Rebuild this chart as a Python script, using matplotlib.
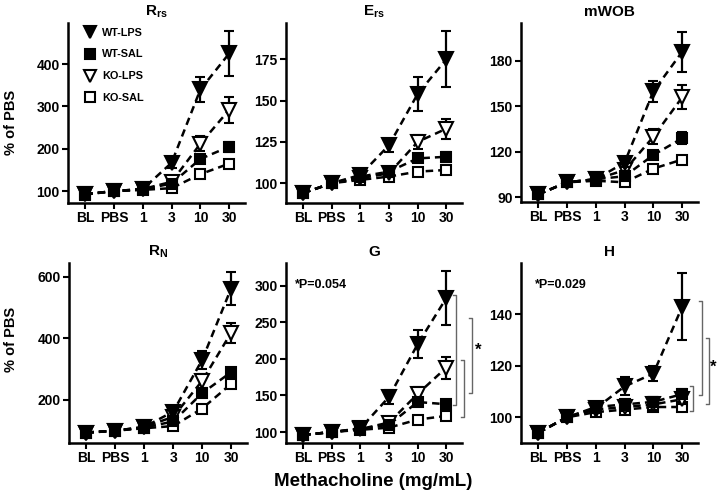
"""Airway mechanics vs methacholine dose, 6 panels (% of PBS)"""
import numpy as np
import matplotlib
matplotlib.use('Agg')
import matplotlib.pyplot as plt
import matplotlib.transforms as mtransforms
from matplotlib.lines import Line2D

plt.rcParams['font.family'] = ['Liberation Sans', 'DejaVu Sans']
plt.rcParams['font.weight'] = 'bold'
plt.rcParams['mathtext.fontset'] = 'custom'
plt.rcParams['mathtext.rm'] = 'Liberation Sans:bold'
plt.rcParams['mathtext.it'] = 'Liberation Sans:bold'
plt.rcParams['mathtext.bf'] = 'Liberation Sans:bold'

DOSES = ['BL', 'PBS', '1', '3', '10', '30']
GROUPS = ['WT-LPS', 'WT-SAL', 'KO-LPS', 'KO-SAL']

# rows follow GROUPS order
rrs_mean = [[93, 100, 105, 167, 340, 425],
            [93, 100, 104, 118, 176, 205],
            [93, 100, 105, 122, 212, 292],
            [92, 100, 103, 107, 140, 165]]
rrs_sem = [[3, 2, 5, 12, 30, 52],
           [3, 2, 4, 8, 10, 12],
           [3, 2, 4, 8, 18, 31],
           [3, 2, 3, 5, 6, 6]]

ers_mean = [[94, 100, 105, 123, 154, 175],
            [94, 100, 104, 107, 115, 116],
            [94, 100, 103, 106, 125, 133],
            [94, 100, 102, 104, 107, 108]]
ers_sem = [[2, 1, 2, 4, 10, 17],
           [2, 1, 2, 2, 2, 3],
           [2, 1, 2, 2, 4, 6],
           [2, 1, 1, 2, 1, 1]]

mwob_mean = [[92, 100, 102, 113, 160, 186],
             [92, 100, 102, 104, 118, 129],
             [92, 100, 102, 108, 130, 156],
             [92, 100, 101, 100, 109, 115]]
mwob_sem = [[2, 1, 1, 3, 7, 13],
            [2, 1, 1, 2, 2, 4],
            [2, 1, 1, 3, 5, 8],
            [2, 1, 1, 2, 2, 2]]

rn_mean = [[94, 100, 112, 162, 330, 562],
           [94, 100, 110, 130, 222, 290],
           [94, 100, 112, 145, 262, 418],
           [93, 100, 108, 115, 172, 252]]
rn_sem = [[5, 3, 5, 15, 30, 55],
          [5, 3, 4, 10, 12, 12],
          [5, 3, 5, 12, 22, 33],
          [4, 3, 4, 6, 10, 12]]

g_mean = [[96, 100, 105, 148, 220, 283],
          [96, 100, 104, 110, 141, 138],
          [96, 100, 104, 113, 152, 188],
          [96, 100, 103, 106, 117, 122]]
g_sem = [[3, 2, 3, 10, 19, 37],
         [3, 2, 3, 4, 6, 6],
         [3, 2, 3, 5, 10, 15],
         [3, 2, 2, 4, 3, 3]]

h_mean = [[94, 100, 103.5, 112, 117, 143],
          [94, 100, 104, 105, 106, 109],
          [94, 100, 103, 104, 105, 107],
          [94, 100, 102, 103, 104, 104]]
h_sem = [[1.5, 1, 1.5, 3.5, 3, 13],
         [1.5, 1, 1.5, 2, 2, 2],
         [1.5, 1, 1.5, 1.5, 2, 2],
         [1.5, 1, 1, 1.5, 1.5, 1.5]]

# significance brackets: (x in axes fraction, y top, y bottom)
g_brackets = [(0.968, 287, 137), (1.013, 198, 120), (1.057, 256, 153)]
h_brackets = [(1.021, 145.4, 108.8), (0.974, 112.2, 102.6), (1.064, 131, 105.2)]

STYLE = {'WT-LPS': ('v', 'black', 9.5),
         'WT-SAL': ('s', 'black', 7.5),
         'KO-LPS': ('v', 'white', 9.5),
         'KO-SAL': ('s', 'white', 7.5)}

W, H = 720, 495
# (title, mean, sem, ylim, yticks, box px: left, top, right, bottom)
PANELS = [
    (r'R$_{rs}$', rrs_mean, rrs_sem, (72, 497), [100, 200, 300, 400], (68, 23, 245, 203)),
    (r'E$_{rs}$', ers_mean, ers_sem, (88, 197), [100, 125, 150, 175], (286, 23, 462, 203)),
    ('mWOB', mwob_mean, mwob_sem, (87, 205), [90, 120, 150, 180], (521, 23, 698, 202)),
    (r'R$_{N}$', rn_mean, rn_sem, (60, 645), [200, 400, 600], (69, 263, 247, 443)),
    ('G', g_mean, g_sem, (85, 331), [100, 150, 200, 250, 300], (286, 263, 462, 443)),
    ('H', h_mean, h_sem, (90, 160), [100, 120, 140], (521, 263, 698, 443)),
]

fig = plt.figure(figsize=(W / 100, H / 100), dpi=100)
x = np.arange(len(DOSES))
axes = []
for title, mean, sem, ylim, yticks, (l, t, r, b) in PANELS:
    ax = fig.add_axes([l / W, 1 - b / H, (r - l) / W, (b - t) / H])
    for k in range(len(GROUPS) - 1, -1, -1):
        mk, fc, ms = STYLE[GROUPS[k]]
        ax.errorbar(x, mean[k], yerr=sem[k], fmt=mk, ls=(0, (3, 2)), lw=1.8,
                    color='black', mfc=fc, mec='black', ms=ms, mew=1.5,
                    ecolor='black', elinewidth=1.6, capsize=3.5, capthick=1.6,
                    zorder=3 + (len(GROUPS) - k))
    ax.set_xlim(-0.6, 5.55)
    ax.set_ylim(ylim)
    ax.set_yticks(yticks)
    ax.set_xticks(x)
    ax.set_xticklabels(DOSES)
    ax.tick_params(labelsize=10, width=1.5, length=4, pad=2)
    for s in ['top', 'right']:
        ax.spines[s].set_visible(False)
    for s in ['left', 'bottom']:
        ax.spines[s].set_linewidth(1.8)
    ax.set_title(title, fontsize=11, fontweight='bold', pad=5)
    axes.append(ax)

# legend in first panel
handles = [Line2D([], [], ls='none', marker=STYLE[g][0], mfc=STYLE[g][1], mec='black',
                  ms=STYLE[g][2] - 1, mew=1.5) for g in GROUPS]
axes[0].legend(handles, GROUPS, loc='upper left', bbox_to_anchor=(0.096, 0.975),
               frameon=False, fontsize=7.8, handlelength=1, handletextpad=0.6,
               labelspacing=1.1, borderpad=0, borderaxespad=0)


def bracket(ax, xa, y0, y1, tick=0.017):
    tr = mtransforms.blended_transform_factory(ax.transAxes, ax.transData)
    ax.plot([xa - tick, xa, xa, xa - tick], [y0, y0, y1, y1], color='0.4', lw=1,
            transform=tr, clip_on=False)


for ax, br, star, ptxt, px in [(axes[4], g_brackets, (1.093, 212), '*P=0.054', 0.053),
                               (axes[5], h_brackets, (1.083, 119.3), '*P=0.029', 0.079)]:
    for xa, y0, y1 in br:
        bracket(ax, xa, y0, y1)
    tr = mtransforms.blended_transform_factory(ax.transAxes, ax.transData)
    ax.text(star[0], star[1], '*', transform=tr, fontsize=12, ha='center', va='center')
    ax.text(px, 0.88, ptxt, transform=ax.transAxes, fontsize=9, ha='left', va='center')

fig.text(11 / W, 1 - 122 / H, '% of PBS', rotation=90, fontsize=10.5, ha='center', va='center')
fig.text(11 / W, 1 - 339 / H, '% of PBS', rotation=90, fontsize=10.5, ha='center', va='center')
fig.text(373 / W, 1 - 481 / H, 'Methacholine (mg/mL)', fontsize=13.5, ha='center', va='center')

fig.savefig('out.png', dpi=100)
